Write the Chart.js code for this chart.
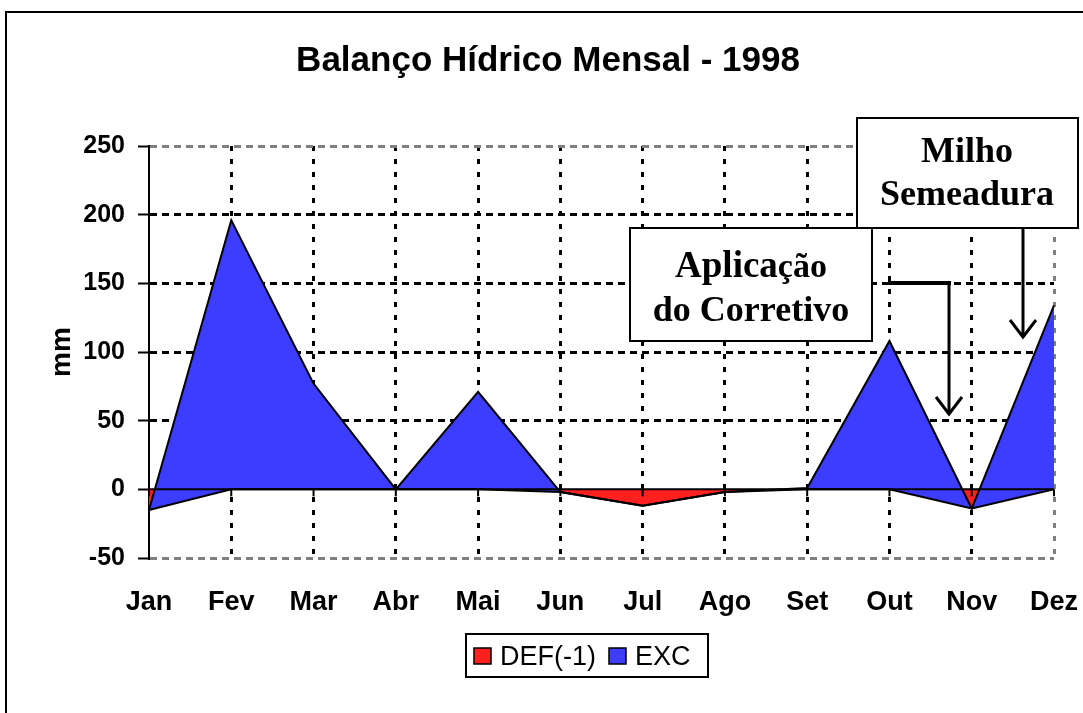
<!DOCTYPE html>
<html>
<head>
<meta charset="utf-8">
<script src="https://cdn.jsdelivr.net/npm/chart.js@4.4.1/dist/chart.umd.min.js"></script>
<style>
  html, body { margin: 0; padding: 0; background: #fff; }
  #wrap { width: 1083px; height: 713px; position: relative; }
</style>
</head>
<body>
<div id="wrap"><canvas id="grafico"></canvas></div>
<script>
// --- dados ---
const meses = ['Jan', 'Fev', 'Mar', 'Abr', 'Mai', 'Jun', 'Jul', 'Ago', 'Set', 'Out', 'Nov', 'Dez'];
const def = [-15, 0, 0, 0, 0, -2, -12, -2, 0, 0, -14, 0];     // DEF(-1)
const exc = [0, 196, 77, 0, 71, 0, 0, 0, 1, 108, 0, 134];      // EXC
const yMin = -50, yMax = 250, yPasso = 50;

const titulo = 'Balanço Hídrico Mensal - 1998';
const tituloY = 'mm';
const nomeDef = 'DEF(-1)', nomeExc = 'EXC';

// area empilhada como no Excel: EXC fica por cima de DEF
const excAcum = exc.map((v, i) => v + def[i]);

const SANS = "'Liberation Sans', Arial, sans-serif";
const SERIF = "'Liberation Serif', 'Times New Roman', serif";
const AZUL = '#3d3dff', VERMELHO = '#ff2020';

function caixaNota(ctx, x1, y1, x2, y2) {
  ctx.save();
  ctx.fillStyle = '#fff';
  ctx.fillRect(x1, y1, x2 - x1, y2 - y1);
  ctx.strokeStyle = '#000'; ctx.lineWidth = 2;
  ctx.strokeRect(x1, y1, x2 - x1, y2 - y1);
  ctx.restore();
}

function seta(ctx, pts, larg) {
  ctx.save();
  ctx.strokeStyle = '#000'; ctx.lineWidth = larg; ctx.lineCap = 'butt';
  ctx.beginPath();
  ctx.moveTo(pts[0][0], pts[0][1]);
  for (let i = 1; i < pts.length; i++) ctx.lineTo(pts[i][0], pts[i][1]);
  ctx.stroke();
  const [tx, ty] = pts[pts.length - 1];
  ctx.beginPath();
  ctx.moveTo(tx - 13, ty - 17); ctx.lineTo(tx, ty); ctx.lineTo(tx + 13, ty - 17);
  ctx.stroke();
  ctx.restore();
}

const extras = {
  id: 'extras',
  afterDatasetsDraw(chart) {
    const ctx = chart.ctx, a = chart.chartArea;
    const y0 = chart.scales.y.getPixelForValue(0);
    ctx.save();
    ctx.strokeStyle = '#000'; ctx.lineWidth = 2;
    ctx.beginPath(); ctx.moveTo(a.left, y0); ctx.lineTo(a.right, y0); ctx.stroke();
    meses.forEach((m, i) => {
      const x = chart.scales.x.getPixelForValue(i);
      ctx.beginPath(); ctx.moveTo(x, y0); ctx.lineTo(x, y0 + 7); ctx.stroke();
    });
    ctx.restore();
  },
  afterDraw(chart) {
    const ctx = chart.ctx;
    ctx.save();
    // moldura externa
    ctx.strokeStyle = '#000'; ctx.lineWidth = 2;
    ctx.strokeRect(6, 12, 1200, 900);

    // titulo
    ctx.fillStyle = '#000';
    ctx.font = 'bold 35px ' + SANS;
    ctx.textAlign = 'center'; ctx.textBaseline = 'alphabetic';
    ctx.fillText(titulo, 548, 71);

    // notas
    caixaNota(ctx, 630, 228, 872, 341);
    caixaNota(ctx, 857, 118, 1078, 228);
    ctx.fillStyle = '#000';
    ctx.font = 'bold 36px ' + SERIF;
    ctx.textAlign = 'center';
    ctx.fillText('Milho', 967, 162);
    ctx.fillText('Semeadura', 967, 205);
    ctx.fillText('do Corretivo', 751, 321);
    // "Aplicação" com o final em fonte um pouco menor, como no original
    ctx.textAlign = 'left';
    ctx.font = 'bold 37px ' + SERIF;
    const w1 = ctx.measureText('Aplica').width;
    ctx.font = 'bold 34px ' + SERIF;
    const w2 = ctx.measureText('ção').width;
    let xa = 751 - (w1 + w2) / 2;
    ctx.font = 'bold 37px ' + SERIF;
    ctx.fillText('Aplica', xa, 277);
    ctx.font = 'bold 34px ' + SERIF;
    ctx.fillText('ção', xa + w1, 277);

    // setas
    ctx.strokeStyle = '#000'; ctx.lineWidth = 4;
    ctx.beginPath(); ctx.moveTo(888, 283); ctx.lineTo(951, 283); ctx.stroke();
    seta(ctx, [[949, 283], [949, 414]], 3);
    seta(ctx, [[1023, 228], [1023, 337]], 3);

    // legenda
    ctx.strokeStyle = '#000'; ctx.lineWidth = 2;
    ctx.strokeRect(466, 634, 242, 43);
    ctx.font = '27px ' + SANS;
    ctx.textBaseline = 'middle'; ctx.textAlign = 'left';
    const itens = [[nomeDef, VERMELHO], [nomeExc, AZUL]];
    let x = 474;
    itens.forEach(([nome, cor]) => {
      ctx.fillStyle = cor;
      ctx.fillRect(x, 648, 17, 16);
      ctx.lineWidth = 1.5; ctx.strokeStyle = '#000';
      ctx.strokeRect(x, 648, 17, 16);
      ctx.fillStyle = '#000';
      ctx.fillText(nome, x + 26, 658);
      x += 26 + ctx.measureText(nome).width + 13;
    });
    ctx.restore();
  }
};

new Chart(document.getElementById('grafico'), {
  type: 'line',
  data: {
    labels: meses,
    datasets: [
      { label: nomeExc, data: excAcum, fill: 1, backgroundColor: AZUL, borderColor: '#000',
        borderWidth: 2, pointRadius: 0, tension: 0 },
      { label: nomeDef, data: def, fill: 'origin', backgroundColor: VERMELHO, borderColor: '#000',
        borderWidth: 2, pointRadius: 0, tension: 0 }
    ]
  },
  options: {
    responsive: true, maintainAspectRatio: false, animation: false,
    layout: { padding: { top: 146, right: 29, bottom: 0, left: 0 } },
    plugins: {
      legend: { display: false }, title: { display: false }, tooltip: { enabled: false },
      filler: { drawTime: 'beforeDatasetsDraw' }
    },
    scales: {
      x: {
        offset: false,
        ticks: { color: '#000', font: { family: SANS, size: 27, weight: 'bold' }, padding: 28,
                 maxRotation: 0, autoSkip: false },
        grid: {
          color: c => c.index === 0 ? 'rgba(0,0,0,0)' : (c.index === meses.length - 1 ? '#808080' : '#000'),
          lineWidth: 3, drawTicks: false
        },
        border: { display: false, dash: [5, 8] },
        afterFit: s => { s.height = 155; s.paddingRight = 0; s.paddingLeft = 0; }
      },
      y: {
        min: yMin, max: yMax,
        ticks: { stepSize: yPasso, color: '#000', font: { family: SANS, size: 25, weight: 'bold' }, padding: 13 },
        grid: {
          color: c => {
            const v = c.tick ? c.tick.value : null;
            if (v === 0) return 'rgba(0,0,0,0)';
            if (v === yMin || v === yMax) return '#808080';
            return '#000';
          },
          lineWidth: 3, tickLength: 11, tickColor: '#000', tickWidth: 2
        },
        border: { display: true, color: '#000', width: 2, dash: [7, 5] },
        title: { display: true, text: tituloY, color: '#000',
                 font: { family: SANS, size: 28, weight: 'bold' }, padding: { top: 45, bottom: 0 } },
        afterFit: s => { s.width = 149; s.paddingTop = 0; s.paddingBottom = 0; }
      }
    }
  },
  plugins: [extras]
});
</script>
</body>
</html>
